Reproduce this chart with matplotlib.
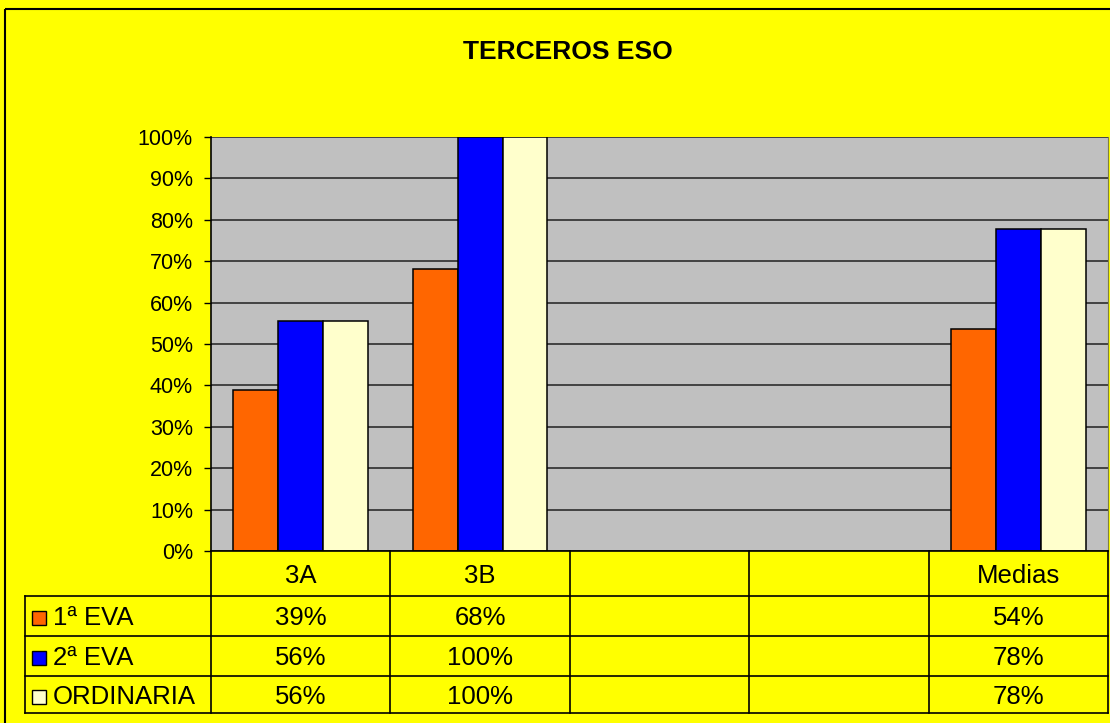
import numpy as np
import matplotlib
matplotlib.use("Agg")
import matplotlib.pyplot as plt
from matplotlib.patches import Rectangle

plt.rcParams['font.family'] = ['Liberation Sans', 'DejaVu Sans']

categories = ['3A', '3B', '', '', 'Medias']
series = ['1ª EVA', '2ª EVA', 'ORDINARIA']
eva1 = [0.389, 0.682, None, None, 0.536]
eva2 = [0.556, 1.0, None, None, 0.778]
ordinaria = [0.556, 1.0, None, None, 0.778]
colors = ['#FF6600', '#0000FF', '#FFFFCC']
yticks = np.arange(0, 1.01, 0.1)

W, H = 1110, 723
yellow = '#FFFF00'

fig = plt.figure(figsize=(W / 100, H / 100), dpi=100, facecolor=yellow)

# plot area in pixels: left, top, right, bottom
L, T, R, B = 211, 137, 1108, 551
ax = fig.add_axes([L / W, 1 - B / H, (R - L) / W, (B - T) / H])
ax.set_facecolor('#C0C0C0')
ax.set_xlim(-0.5, len(categories) - 0.5)
ax.set_ylim(0, 1)
ax.set_yticks(yticks)
ax.set_yticklabels([f"{int(round(t * 100))}%" for t in yticks], fontsize=15.5)
ax.tick_params(axis='y', direction='out', length=5, width=1, pad=8)
ax.set_xticks([])
ax.yaxis.grid(True, color='#202020', linewidth=1.1)
ax.set_axisbelow(True)
for s in ['top', 'bottom']:
    ax.spines[s].set_visible(False)
ax.spines['left'].set_linewidth(1.2)
ax.spines['right'].set_color('#808040')

bw = 0.25
all_series = [eva1, eva2, ordinaria]
for k, vals in enumerate(all_series):
    xs = [i + (k - 1) * bw for i, v in enumerate(vals) if v is not None]
    hs = [v for v in vals if v is not None]
    ax.bar(xs, hs, width=bw, color=colors[k], edgecolor='black', linewidth=1.1, zorder=3)

# overlay in pixel coordinates for table, title and border
ov = fig.add_axes([0, 0, 1, 1], facecolor='none')
ov.set_xlim(0, W)
ov.set_ylim(H, 0)
ov.axis('off')

ov.add_patch(Rectangle((5, 9), W, H, fill=False, edgecolor='black', linewidth=1.5))
ov.text(568, 52, 'TERCEROS ESO', ha='center', va='center', fontsize=19, fontweight='bold')

fig.canvas.draw()
edges = [ax.transData.transform((i - 0.5, 0))[0] for i in range(len(categories) + 1)]
centers = [ax.transData.transform((i, 0))[0] for i in range(len(categories))]

row_y = [551, 595.5, 636, 676, 713]
tbl_left = 25
lw = 1.2
# header row
ov.plot([edges[0], edges[-1]], [row_y[0], row_y[0]], color='black', lw=lw)
for y in row_y[1:]:
    ov.plot([tbl_left, edges[-1]], [y, y], color='black', lw=lw)
for x in edges:
    ov.plot([x, x], [row_y[0], row_y[-1]], color='black', lw=lw)
ov.plot([tbl_left, tbl_left], [row_y[1], row_y[-1]], color='black', lw=lw)

for i, c in enumerate(categories):
    ov.text(centers[i], (row_y[0] + row_y[1]) / 2 + 3, c, ha='center', va='center', fontsize=18.5)

for k, vals in enumerate(all_series):
    yc = (row_y[k + 1] + row_y[k + 2]) / 2 + 2
    ov.add_patch(Rectangle((32, yc - 7), 14, 14, facecolor=colors[k], edgecolor='black', linewidth=1))
    ov.text(53, yc, series[k], ha='left', va='center', fontsize=18.5)
    for i, v in enumerate(vals):
        if v is not None:
            ov.text(centers[i], yc, f"{int(round(v * 100))}%", ha='center', va='center', fontsize=18.5)

fig.savefig('out.png', dpi=100, facecolor=yellow)
